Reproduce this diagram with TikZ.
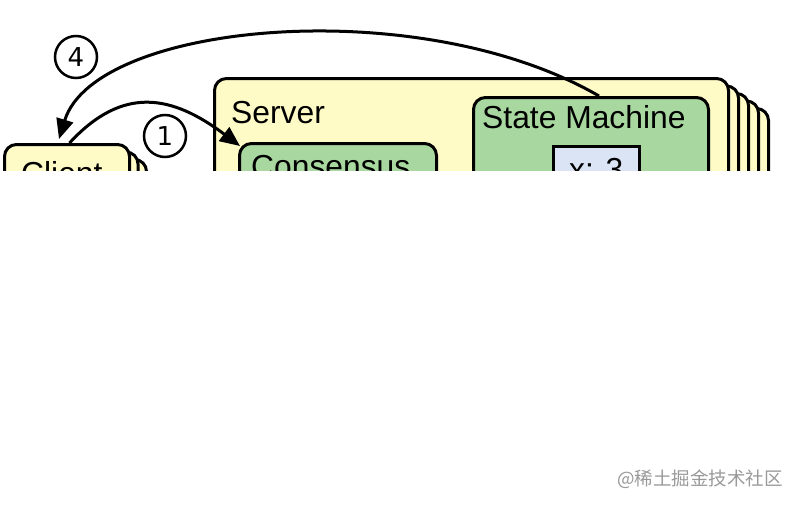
\documentclass[tikz,border=0pt]{standalone}
\usepackage{fontspec}
\setmainfont{Liberation Sans}
\newfontfamily\digitfont{DejaVu Sans}
\newfontfamily\cjkfont{Noto Sans CJK SC}
\usetikzlibrary{shapes, arrows.meta, positioning, calc}
\definecolor{boxyellow}{RGB}{255,251,199}
\definecolor{boxgreen}{RGB}{168,216,159}
\definecolor{boxblue}{RGB}{218,228,245}
\tikzset{
  box/.style={draw, line width=3pt, rounded corners=12pt, inner sep=0pt, anchor=north west},
  lbl/.style={font=\fontsize{31.8}{36}\selectfont, inner sep=0pt, anchor=base west},
  numcirc/.style={circle, draw, line width=2.5pt, minimum size=42pt, inner sep=0pt, font=\digitfont\fontsize{26}{30}\selectfont},
  msg/.style={line width=3pt, -{Triangle[length=20pt,width=17pt]}},
}

\begin{document}
\begin{tikzpicture}[x=1pt, y=-1pt]
    \useasboundingbox (0,0) rectangle (800,506);
    \begin{scope}
        \clip (0,0) rectangle (800,170);
        % server copies behind
        \foreach \i in {4,3,2,1}
            \node[box, fill=boxyellow, minimum width=514pt, minimum height=300pt] (srv\i) at (213+10*\i, 77+7.5*\i) {};
        \node[box, fill=boxyellow, minimum width=514pt, minimum height=300pt] (srv) at (213,77) {};
        \node[box, fill=boxgreen, minimum width=235pt, minimum height=200pt] (sm) at (472,96) {};
        \node[box, fill=boxblue, rounded corners=0pt, line width=2.5pt, minimum width=86pt, minimum height=60pt] (xval) at (552,145) {};
        \node[box, fill=boxgreen, minimum width=197pt, minimum height=200pt] (cons) at (238,142) {};
        % client copies behind
        \foreach \i in {2,1}
            \node[box, fill=boxyellow, minimum width=125pt, minimum height=200pt] (cli\i) at (3+8.5*\i, 143+7.5*\i) {};
        \node[box, fill=boxyellow, minimum width=125pt, minimum height=200pt] (cli) at (3,143) {};
        \node[lbl] (srvlbl) at ($(srv.north west)+(18,46)$) {Server};
        \node[lbl] (smlbl) at ($(sm.north west)+(10,32)$) {State Machine};
        \node[lbl] (conslbl) at ($(cons.north west)+(13,35)$) {Consensus};
        \node[lbl] (clilbl) at ($(cli.north west)+(18,41)$) {Client};
        \node[lbl, anchor=base] (xlbl) at ($(xval.north)+(0,35)$) {x: 3};
    \end{scope}
    \draw[msg] ($(sm.north)+(8,0)$) .. controls (420,-8) and (95,22) .. ($(cli.north)+(-8,-4)$);
    \draw[msg] ($(cli.north)+(2.5,0)$) .. controls (123,85) and (172,95) .. ($(cons.north west)+(2,4)$);
    \node[numcirc] (n4) at (76,57) {4};
    \node[numcirc] (n1) at (165,136) {1};
    \node[font=\cjkfont\fontsize{18.5}{20}\selectfont, text=black!40, anchor=east, inner sep=0pt] (wm) at (783,479) {@稀土掘金技术社区};
\end{tikzpicture}
\end{document}
